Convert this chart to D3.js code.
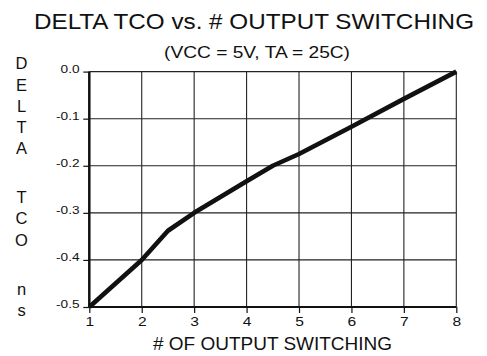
<!DOCTYPE html>
<html>
<head>
<meta charset="utf-8">
<script src="https://cdn.jsdelivr.net/npm/d3@7"></script>
<style>
  html, body { margin: 0; padding: 0; background: #fff; }
  svg { display: block; font-family: "Liberation Sans", Arial, Helvetica, sans-serif; }
</style>
</head>
<body>
<svg id="chart" width="487" height="356"></svg>
<script>
// Delta TCO (ns) against number of outputs switching
const outputsSwitching = [1, 2, 2.5, 3, 4, 4.5, 5, 6, 7, 8];
const deltaTco = [-0.5, -0.4, -0.338, -0.3, -0.233, -0.2, -0.175, -0.117, -0.058, 0.0];

const xTicks = [1, 2, 3, 4, 5, 6, 7, 8];
const yTicks = [0.0, -0.1, -0.2, -0.3, -0.4, -0.5];

const titleText = "DELTA TCO vs. # OUTPUT SWITCHING";
const subtitleText = "(VCC = 5V, TA = 25C)";
const xTitleText = "# OF OUTPUT SWITCHING";
const yTitleGroups = ["DELTA", "TCO", "ns"];

const svg = d3.select("#chart");
const frame = { left: 89.3, right: 456.3, top: 71.6, bottom: 307 };
const ink = "#111";
const wide = 1.3; // horizontal stretch for the broad sans lettering

const x = d3.scaleLinear().domain([1, 8]).range([frame.left, frame.right]);
const y = d3.scaleLinear().domain([-0.5, 0]).range([frame.bottom, frame.top]);

// grid
const grid = svg.append("g").attr("stroke", "#222").attr("stroke-width", 1.1);
grid.selectAll("line.v").data(xTicks.slice(1)).join("line")
  .attr("x1", d => x(d)).attr("x2", d => x(d))
  .attr("y1", y(0)).attr("y2", y(-0.5));
grid.selectAll("line.h").data(yTicks.slice(0, -1)).join("line")
  .attr("x1", x(1)).attr("x2", x(8))
  .attr("y1", d => y(d)).attr("y2", d => y(d));

// x axis
const xAxis = d3.axisBottom(x).tickValues(xTicks).tickFormat(d3.format("d"))
  .tickSize(6).tickPadding(4.5);
const gx = svg.append("g").attr("transform", `translate(0,${y(-0.5)})`).call(xAxis);
gx.select(".domain").attr("stroke", ink).attr("stroke-width", 2).attr("d", `M${x(1)},0H${x(8)}`);
gx.selectAll(".tick line").attr("stroke", ink).attr("stroke-width", 1.2);
gx.selectAll(".tick text").attr("font-size", 12).attr("fill", ink)
  .attr("font-family", "Liberation Sans, Arial, sans-serif")
  .attr("transform", `scale(${wide},1)`);

// y axis
const yPad = 3.8, yTick = 6;
const yAxis = d3.axisLeft(y).tickValues(yTicks)
  .tickFormat(d => d3.format(".1f")(d).replace("\u2212", "-"))
  .tickSize(yTick).tickPadding(yPad);
const gy = svg.append("g").attr("transform", `translate(${x(1)},0)`).call(yAxis);
gy.select(".domain").attr("stroke", ink).attr("stroke-width", 2.5).attr("d", `M0,${y(-0.5)}V${y(0)}`);
gy.selectAll(".tick line").attr("stroke", ink).attr("stroke-width", 1.2);
gy.selectAll(".tick text").attr("font-size", 10.5).attr("fill", ink)
  .attr("dy", "0.05em")
  .attr("font-family", "Liberation Sans, Arial, sans-serif")
  .attr("x", -(yTick + yPad) / wide)
  .attr("transform", `scale(${wide},1)`)
  .text(d => d === 0 ? "0.0" : d3.format(".1f")(d).replace("\u2212", "-"));

// curve
const pts = outputsSwitching.map((v, i) => [v, deltaTco[i]]);
svg.append("path").datum(pts)
  .attr("fill", "none").attr("stroke", ink).attr("stroke-width", 4.6)
  .attr("stroke-linejoin", "round")
  .attr("d", d3.line().x(d => x(d[0])).y(d => y(d[1])));

// titles
function stretchedText(str, x0, baseline, size, width) {
  svg.append("text").attr("x", x0).attr("y", baseline)
    .attr("font-size", size).attr("fill", ink)
    .attr("textLength", width).attr("lengthAdjust", "spacingAndGlyphs")
    .text(str);
}
stretchedText(titleText, 34, 29, 22, 440);
stretchedText(subtitleText, 164, 58, 17, 186);
stretchedText(xTitleText, 153, 350, 18.5, 239);

// stacked vertical y-axis title
const letters = [];
let yPos = 69.3;
yTitleGroups.forEach((g, gi) => {
  if (gi > 0) yPos += 49 - 21.2;
  g.split("").forEach(ch => { letters.push({ ch, y: yPos }); yPos += 21.2; });
});
svg.append("g").selectAll("text").data(letters).join("text")
  .attr("x", 21.5).attr("y", d => d.y).attr("text-anchor", "middle")
  .attr("font-size", 16.5).attr("fill", ink).text(d => d.ch);
</script>
</body>
</html>
